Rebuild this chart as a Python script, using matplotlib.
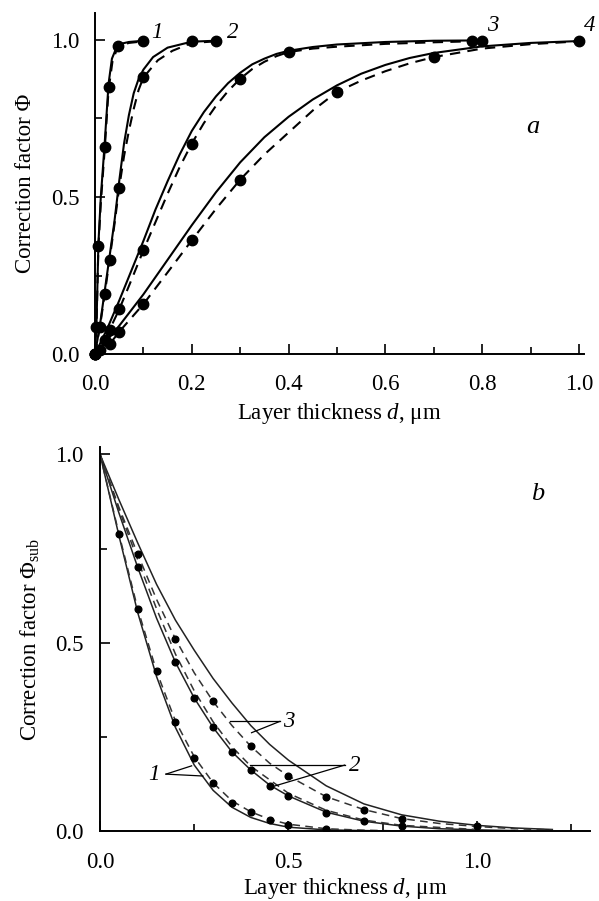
import numpy as np
import matplotlib
matplotlib.use("Agg")
import matplotlib.pyplot as plt

plt.rcParams["font.family"] = "serif"
plt.rcParams["font.serif"] = ["Liberation Serif", "DejaVu Serif"]
plt.rcParams["mathtext.fontset"] = "custom"
plt.rcParams["mathtext.rm"] = "Liberation Serif"
plt.rcParams["mathtext.it"] = "Liberation Serif:italic"

# ---- panel a: Phi vs layer thickness, curves 1-4 ----
a1_pts_x = [0, 0.003, 0.007, 0.02, 0.028, 0.047, 0.1]
a1_pts_y = [0, 0.087, 0.343, 0.66, 0.85, 0.98, 0.995]
a1_sol_x = [0, 0.003, 0.007, 0.012, 0.02, 0.028, 0.035, 0.047, 0.07, 0.1]
a1_sol_y = [0, 0.09, 0.35, 0.5, 0.67, 0.86, 0.94, 0.985, 0.993, 0.997]
a1_das_x = [0, 0.003, 0.007, 0.012, 0.02, 0.028, 0.036, 0.047, 0.07, 0.1]
a1_das_y = [0, 0.085, 0.34, 0.48, 0.65, 0.84, 0.93, 0.978, 0.99, 0.995]

a2_pts_x = [0, 0.01, 0.02, 0.03, 0.05, 0.1, 0.2, 0.25]
a2_pts_y = [0, 0.085, 0.19, 0.30, 0.53, 0.88, 0.995, 0.995]
a2_sol_x = [0, 0.01, 0.02, 0.03, 0.04, 0.05, 0.06, 0.07, 0.08, 0.09, 0.1, 0.12, 0.15, 0.2, 0.25]
a2_sol_y = [0, 0.09, 0.2, 0.31, 0.42, 0.55, 0.67, 0.76, 0.83, 0.875, 0.905, 0.945, 0.975, 0.994, 0.997]
a2_das_x = [0, 0.01, 0.02, 0.03, 0.04, 0.05, 0.06, 0.07, 0.08, 0.09, 0.1, 0.13, 0.16, 0.2, 0.25]
a2_das_y = [0, 0.085, 0.19, 0.30, 0.41, 0.53, 0.63, 0.71, 0.78, 0.84, 0.88, 0.935, 0.965, 0.99, 0.995]

a3_pts_x = [0, 0.02, 0.03, 0.05, 0.1, 0.2, 0.3, 0.4, 0.78, 0.8]
a3_pts_y = [0, 0.045, 0.076, 0.142, 0.33, 0.67, 0.876, 0.961, 0.996, 0.996]
a3_sol_x = [0, 0.025, 0.05, 0.075, 0.1, 0.125, 0.15, 0.175, 0.2, 0.225, 0.25, 0.275, 0.3,
            0.325, 0.35, 0.375, 0.4, 0.45, 0.5, 0.6, 0.7, 0.8]
a3_sol_y = [0, 0.08, 0.17, 0.265, 0.36, 0.46, 0.55, 0.635, 0.71, 0.77, 0.82, 0.862, 0.895,
            0.922, 0.94, 0.955, 0.965, 0.977, 0.985, 0.993, 0.997, 0.998]
a3_das_x = [0, 0.02, 0.05, 0.075, 0.1, 0.125, 0.15, 0.175, 0.2, 0.225, 0.25, 0.275, 0.3,
            0.325, 0.35, 0.375, 0.4, 0.45, 0.5, 0.6, 0.7, 0.8]
a3_das_y = [0, 0.045, 0.142, 0.235, 0.33, 0.42, 0.51, 0.595, 0.67, 0.735, 0.79, 0.837, 0.876,
            0.907, 0.93, 0.948, 0.961, 0.972, 0.978, 0.987, 0.992, 0.996]

a4_pts_x = [0, 0.01, 0.03, 0.05, 0.1, 0.2, 0.3, 0.5, 0.7, 1.0]
a4_pts_y = [0, 0.013, 0.031, 0.071, 0.159, 0.362, 0.555, 0.834, 0.945, 0.995]
a4_sol_x = [0, 0.05, 0.1, 0.15, 0.2, 0.25, 0.3, 0.35, 0.4, 0.45, 0.5, 0.55, 0.6, 0.65,
            0.7, 0.8, 0.9, 1.0]
a4_sol_y = [0, 0.09, 0.19, 0.3, 0.41, 0.515, 0.61, 0.69, 0.755, 0.81, 0.855, 0.892, 0.92, 0.942,
            0.958, 0.979, 0.99, 0.996]
a4_das_x = [0, 0.03, 0.05, 0.1, 0.15, 0.2, 0.25, 0.3, 0.35, 0.4, 0.45, 0.5, 0.55, 0.6, 0.65,
            0.7, 0.8, 0.9, 1.0]
a4_das_y = [0, 0.031, 0.071, 0.159, 0.26, 0.362, 0.462, 0.555, 0.635, 0.705, 0.775, 0.834, 0.87, 0.9, 0.925,
            0.945, 0.972, 0.986, 0.995]

# ---- panel b: Phi_sub vs layer thickness, curves 1-3 ----
b1_pts_x = [0.05, 0.1, 0.15, 0.2, 0.25, 0.3, 0.35, 0.4, 0.45, 0.5, 0.6]
b1_pts_y = [0.79, 0.59, 0.424, 0.29, 0.195, 0.127, 0.075, 0.051, 0.03, 0.017, 0.006]
b1_sol_x = [0, 0.05, 0.1, 0.15, 0.2, 0.25, 0.3, 0.35, 0.4, 0.45, 0.5, 0.6, 0.7, 0.8]
b1_sol_y = [1, 0.785, 0.58, 0.41, 0.275, 0.175, 0.108, 0.063, 0.036, 0.02, 0.01, 0.003, 0.001, 0]
b1_das_x = [0, 0.05, 0.1, 0.15, 0.2, 0.25, 0.3, 0.35, 0.4, 0.45, 0.5, 0.6, 0.7, 0.8]
b1_das_y = [1, 0.79, 0.59, 0.424, 0.292, 0.197, 0.128, 0.08, 0.051, 0.031, 0.018, 0.006, 0.002, 0]

b2_pts_x = [0.1, 0.2, 0.25, 0.3, 0.35, 0.4, 0.45, 0.5, 0.6, 0.7, 0.8]
b2_pts_y = [0.70, 0.448, 0.353, 0.275, 0.21, 0.162, 0.12, 0.094, 0.048, 0.026, 0.012]
b2_sol_x = [0, 0.05, 0.1, 0.15, 0.2, 0.25, 0.3, 0.35, 0.4, 0.45, 0.5, 0.6, 0.7, 0.8, 0.9, 1.0, 1.1]
b2_sol_y = [1, 0.845, 0.70, 0.565, 0.448, 0.353, 0.275, 0.21, 0.162, 0.122, 0.093, 0.05, 0.026, 0.013, 0.006, 0.003, 0.001]
b2_das_x = [0, 0.05, 0.1, 0.15, 0.2, 0.25, 0.3, 0.35, 0.4, 0.5, 0.6, 0.7, 0.8, 1.0]
b2_das_y = [1, 0.855, 0.72, 0.59, 0.47, 0.372, 0.29, 0.224, 0.172, 0.1, 0.055, 0.029, 0.015, 0.004]

b3_pts_x = [0.1, 0.2, 0.3, 0.4, 0.5, 0.6, 0.7, 0.8, 1.0]
b3_pts_y = [0.735, 0.51, 0.344, 0.225, 0.146, 0.091, 0.057, 0.033, 0.012]
b3_sol_x = [0, 0.05, 0.1, 0.15, 0.2, 0.25, 0.3, 0.35, 0.4, 0.45, 0.5, 0.6, 0.7, 0.8, 0.9, 1.0, 1.1, 1.2]
b3_sol_y = [1, 0.88, 0.765, 0.655, 0.56, 0.48, 0.405, 0.34, 0.28, 0.23, 0.188, 0.12, 0.072, 0.043, 0.026, 0.015, 0.008, 0.004]
b3_das_x = [0, 0.05, 0.1, 0.15, 0.2, 0.25, 0.3, 0.35, 0.4, 0.45, 0.5, 0.6, 0.7, 0.8, 0.9, 1.0, 1.1, 1.2]
b3_das_y = [1, 0.86, 0.735, 0.615, 0.51, 0.42, 0.344, 0.28, 0.225, 0.18, 0.146, 0.091, 0.057, 0.033, 0.02, 0.012, 0.006, 0.003]

DASH = (0, (5, 3.5))
FS = 16.5

fig = plt.figure(figsize=(5.99, 9.01), dpi=100)
ax1 = fig.add_axes([0.1586, 0.607, 0.816, 0.3785])
ax2 = fig.add_axes([0.167, 0.0777, 0.818, 0.4263])

for ax in (ax1, ax2):
    for s in ("top", "right"):
        ax.spines[s].set_visible(False)
    for s in ("left", "bottom"):
        ax.spines[s].set_linewidth(1.4)
    ax.tick_params(which="both", direction="in", labelsize=FS, width=1.2)
    ax.tick_params(which="major", length=7)
    ax.tick_params(which="minor", length=5)
ax1.tick_params(axis="x", which="both", pad=14)
ax1.tick_params(axis="y", which="both", pad=11)
ax2.tick_params(axis="x", which="both", pad=15)
ax2.tick_params(axis="y", which="both", pad=12)

# panel a
for px, py, sx, sy, dx, dy in [
    (a1_pts_x, a1_pts_y, a1_sol_x, a1_sol_y, a1_das_x, a1_das_y),
    (a2_pts_x, a2_pts_y, a2_sol_x, a2_sol_y, a2_das_x, a2_das_y),
    (a3_pts_x, a3_pts_y, a3_sol_x, a3_sol_y, a3_das_x, a3_das_y),
    (a4_pts_x, a4_pts_y, a4_sol_x, a4_sol_y, a4_das_x, a4_das_y),
]:
    ax1.plot(sx, sy, color="black", lw=1.5, clip_on=False)
    ax1.plot(dx, dy, color="black", lw=1.5, ls=DASH, clip_on=False)
    ax1.plot(px, py, "o", color="black", ms=7.5, clip_on=False)

ax1.set_xlim(0, 1.01)
ax1.set_ylim(0, 1.085)
ax1.set_xticks(np.arange(0, 1.01, 0.2))
ax1.set_xticks(np.arange(0.1, 1.0, 0.2), minor=True)
ax1.set_yticks([0, 0.5, 1.0])
ax1.set_yticks([0.25, 0.75], minor=True)
ax1.xaxis.set_major_formatter(matplotlib.ticker.FormatStrFormatter("%.1f"))
ax1.yaxis.set_major_formatter(matplotlib.ticker.FormatStrFormatter("%.1f"))
ax1.set_xlabel("Layer thickness $d$, μm", fontsize=FS, labelpad=5)
ax1.set_ylabel("Correction factor Φ", fontsize=FS, labelpad=11)
for lab, x, y in [("1", 0.128, 1.024), ("2", 0.285, 1.024), ("3", 0.822, 1.046), ("4", 1.023, 1.046)]:
    ax1.text(x, y, lab, fontsize=FS, style="italic", ha="center", va="center", clip_on=False)
ax1.text(0.905, 0.722, "a", fontsize=19, style="italic", ha="center", va="center")

# panel b
for px, py, sx, sy, dx, dy in [
    (b1_pts_x, b1_pts_y, b1_sol_x, b1_sol_y, b1_das_x, b1_das_y),
    (b2_pts_x, b2_pts_y, b2_sol_x, b2_sol_y, b2_das_x, b2_das_y),
    (b3_pts_x, b3_pts_y, b3_sol_x, b3_sol_y, b3_das_x, b3_das_y),
]:
    ax2.plot(sx, sy, color="#222222", lw=1.1)
    ax2.plot(dx, dy, color="#333333", lw=1.1, ls=DASH)
    ax2.plot(px, py, "o", color="black", ms=4.8)

ax2.set_xlim(0, 1.3)
ax2.set_ylim(0, 1.02)
ax2.set_xticks([0, 0.5, 1.0])
ax2.set_xticks([0.25, 0.75, 1.25], minor=True)
ax2.set_yticks([0, 0.5, 1.0])
ax2.set_yticks([0.25, 0.75], minor=True)
ax2.xaxis.set_major_formatter(matplotlib.ticker.FormatStrFormatter("%.1f"))
ax2.yaxis.set_major_formatter(matplotlib.ticker.FormatStrFormatter("%.1f"))
ax2.set_xlabel("Layer thickness $d$, μm", fontsize=FS, labelpad=2)
ax2.set_ylabel("Correction factor Φ$_{\\mathrm{sub}}$", fontsize=FS, labelpad=9)

# leader lines for labels in b
for lab, apex, ends, txt in [
    ("3", (0.477, 0.291), [(0.344, 0.291), (0.402, 0.261)], (0.5, 0.291)),
    ("2", (0.649, 0.175), [(0.397, 0.175), (0.455, 0.117)], (0.675, 0.175)),
    ("1", (0.175, 0.151), [(0.243, 0.173), (0.273, 0.146)], (0.142, 0.149)),
]:
    for e in ends:
        ax2.plot([apex[0], e[0]], [apex[1], e[1]], color="black", lw=0.9)
    ax2.text(txt[0], txt[1], lab, fontsize=FS, style="italic", ha="center", va="center")
ax2.text(1.16, 0.895, "b", fontsize=19, style="italic", ha="center", va="center")

fig.savefig("out.png", dpi=100)
